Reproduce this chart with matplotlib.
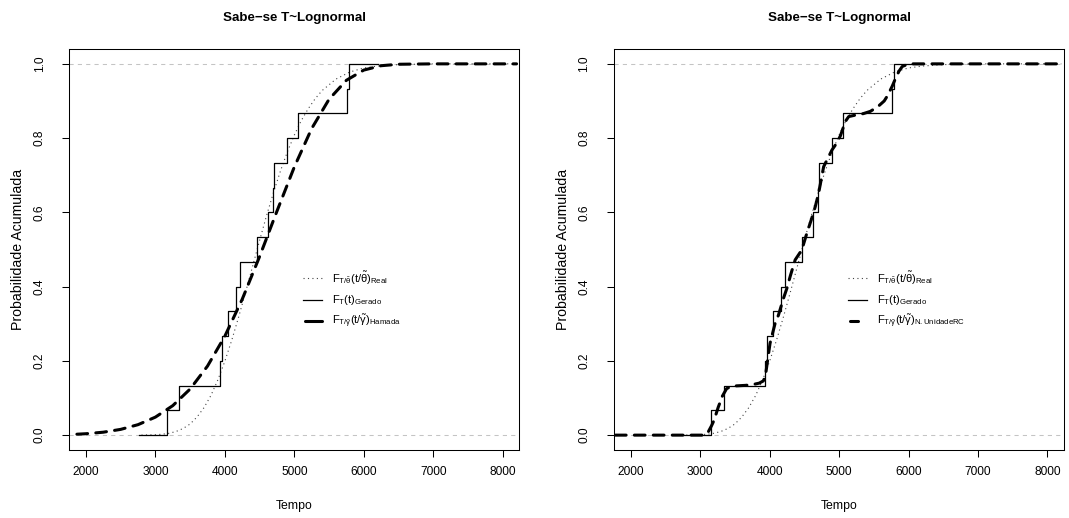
import numpy as np
import matplotlib.pyplot as plt

plt.rcParams['font.family'] = ['Liberation Sans', 'DejaVu Sans']
plt.rcParams['mathtext.fontset'] = 'custom'
plt.rcParams['mathtext.rm'] = 'Liberation Sans'
plt.rcParams['mathtext.it'] = 'Liberation Sans'
plt.rcParams['mathtext.bf'] = 'Liberation Sans:bold'

# amostra gerada (15 tempos) -> ECDF
tempos = [3163, 3345, 3931, 3964, 4050, 4157, 4215, 4468, 4627, 4690, 4710, 4901, 5059, 5756, 5790]
ecdf_lim = [2770, 6200]

# F real (pontilhada)
t_real = [2800, 3000, 3100, 3200, 3300, 3400, 3500, 3600, 3700, 3800, 3900, 4000, 4100, 4200,
          4300, 4400, 4500, 4600, 4700, 4800, 4900, 5000, 5100, 5200, 5300, 5400, 5600, 5800,
          6000, 6200, 6500, 7000, 8200]
F_real = [0.0002, 0.0011, 0.0025, 0.005, 0.010, 0.018, 0.030, 0.049, 0.074, 0.107, 0.149, 0.199,
          0.256, 0.319, 0.386, 0.455, 0.524, 0.591, 0.653, 0.711, 0.763, 0.808, 0.847, 0.879,
          0.906, 0.928, 0.959, 0.978, 0.989, 0.994, 0.998, 1.0, 1.0]

# Hamada (painel esquerdo)
t_ham = [1870, 2000, 2250, 2500, 2750, 3000, 3250, 3500, 3750, 4000, 4250, 4500, 4750, 5000,
         5250, 5500, 5750, 6000, 6250, 6500, 7000, 7500, 8200]
F_ham = [0.0025, 0.0038, 0.0079, 0.0155, 0.0282, 0.0485, 0.0794, 0.1242, 0.1859, 0.2665, 0.3659,
         0.4809, 0.6031, 0.7222, 0.8257, 0.9045, 0.9557, 0.9832, 0.9950, 0.9989, 1.0, 1.0, 1.0]

# N.UnidadeRC (painel direito)
t_rc = [1780, 2500, 3000, 3070, 3120, 3163, 3200, 3260, 3320, 3380, 3450, 3550, 3650, 3750, 3850,
        3910, 3940, 3970, 4006, 4079, 4127, 4199, 4248, 4300, 4368, 4464, 4530, 4600, 4657, 4705,
        4778, 4826, 4898, 4960, 5019, 5091, 5139, 5236, 5350, 5450, 5560, 5650, 5700, 5766, 5800,
        5862, 5910, 6007, 8200]
F_rc = [0, 0, 0, 0.0, 0.01, 0.025, 0.04, 0.075, 0.105, 0.125, 0.132, 0.133, 0.134, 0.136, 0.140,
        0.146, 0.16, 0.2, 0.247, 0.301, 0.323, 0.368, 0.395, 0.43, 0.472, 0.499, 0.54, 0.58, 0.615,
        0.651, 0.723, 0.741, 0.768, 0.785, 0.806, 0.845, 0.858, 0.862, 0.866, 0.872, 0.885, 0.9,
        0.915, 0.94, 0.955, 0.98, 0.993, 1.0, 1.0]

lab_real = r'$\mathrm{F}_{\mathrm{T}/\tilde{\theta}}(\mathrm{t}/\tilde{\theta})_{\mathrm{Real}}$'
lab_ger = r'$\mathrm{F}_{\mathrm{T}}(\mathrm{t})_{\mathrm{Gerado}}$'
lab_ham = r'$\mathrm{F}_{\mathrm{T}/\tilde{\gamma}}(\mathrm{t}/\tilde{\gamma})_{\mathrm{Hamada}}$'
lab_rc = r'$\mathrm{F}_{\mathrm{T}/\tilde{\gamma}}(\mathrm{t}/\tilde{\gamma})_{\mathrm{N.UnidadeRC}}$'

n = len(tempos)
x_ecdf = [ecdf_lim[0]] + tempos + [ecdf_lim[1]]
y_ecdf = [0] + [k / n for k in range(1, n + 1)] + [1]

fig = plt.figure(figsize=(10.69, 5.18), dpi=100)
pos = [[0.0648, 0.1313, 0.421, 0.7741], [0.5744, 0.1313, 0.421, 0.7741]]
# fim da amostra tracejada na legenda (direita fica curta)
leg_end = [0.561, 0.542]

dash_style = (0, (3.5, 2.7))
paineis = [(t_ham, F_ham, lab_ham), (t_rc, F_rc, lab_rc)]
for i, (t_est, F_est, lab_est) in enumerate(paineis):
    ax = fig.add_axes(pos[i])
    ax.axhline(0, color='#c4c4c4', lw=0.75, ls=(0, (4, 4)))
    ax.axhline(1, color='#c4c4c4', lw=0.75, ls=(0, (4, 4)))
    ax.plot(t_real, F_real, color='#444444', lw=0.8, ls=(0, (1, 3)))
    ax.step(x_ecdf, y_ecdf, where='post', color='black', lw=0.9)
    ax.plot(t_est, F_est, color='black', lw=2.2, ls=dash_style, dash_capstyle='round')

    ax.set_xlim(1760, 8240)
    ax.set_ylim(-0.04, 1.04)
    ax.set_xticks([2000, 3000, 4000, 5000, 6000, 7000, 8000])
    ax.set_yticks([0.0, 0.2, 0.4, 0.6, 0.8, 1.0])
    ax.set_yticklabels(['0.0', '0.2', '0.4', '0.6', '0.8', '1.0'], rotation=90, va='center')
    ax.tick_params(direction='out', length=5, width=0.75, labelsize=8.6)
    ax.tick_params(axis='x', pad=6.5)
    ax.tick_params(axis='y', pad=12)
    for s in ax.spines.values():
        s.set_linewidth(0.75)
    ax.set_title('Sabe−se T~Lognormal', fontweight='bold', fontsize=9.6, pad=20)
    ax.set_xlabel('Tempo', fontsize=8.8, labelpad=16)
    ax.set_ylabel('Probabilidade Acumulada', fontsize=10.2, labelpad=6)

    # legenda sem caixa
    rows = [0.428, 0.374, 0.322]
    ax.plot([0.52, 0.561], [rows[0]] * 2, transform=ax.transAxes, color='#444444', lw=0.8, ls=(0, (1, 3)))
    ax.plot([0.52, 0.561], [rows[1]] * 2, transform=ax.transAxes, color='black', lw=0.9)
    ax.plot([0.524, leg_end[i]], [rows[2]] * 2, transform=ax.transAxes, color='black', lw=2.2,
            solid_capstyle='round')
    for r, lab in zip(rows, [lab_real, lab_ger, lab_est]):
        ax.text(0.584, r, lab, transform=ax.transAxes, fontsize=8, va='center', ha='left')

fig.savefig('out.png', dpi=100)
